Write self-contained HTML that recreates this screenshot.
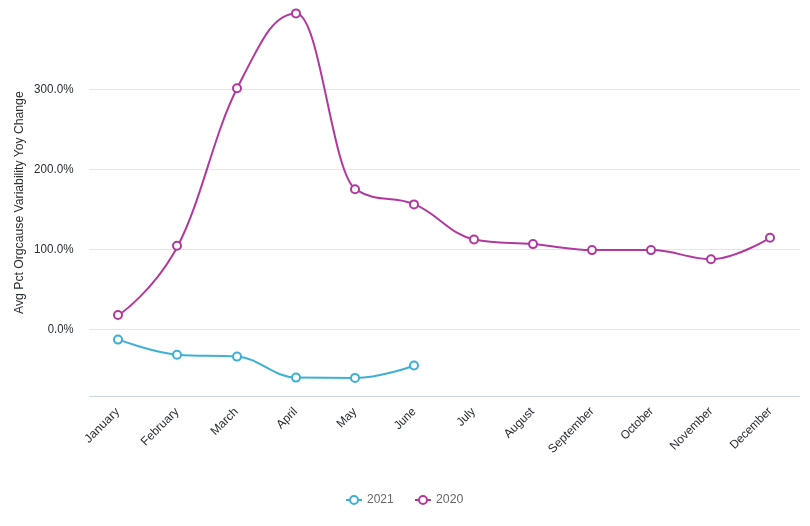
<!DOCTYPE html>
<html><head><meta charset="utf-8"><title>Chart</title>
<style>
html,body{margin:0;padding:0;background:#fff;}
body{width:810px;height:526px;overflow:hidden;}
svg{display:block;font-family:"Liberation Sans",sans-serif;font-size:12px;}
</style></head><body>
<svg width="810" height="526" viewBox="0 0 810 526">
<rect width="810" height="526" fill="#ffffff"/>
<path d="M89 89.5 L800 89.5" stroke="#e6e6e6" stroke-width="1" fill="none"/>
<path d="M89 169.5 L800 169.5" stroke="#e6e6e6" stroke-width="1" fill="none"/>
<path d="M89 249.5 L800 249.5" stroke="#e6e6e6" stroke-width="1" fill="none"/>
<path d="M89 329.5 L800 329.5" stroke="#e6e6e6" stroke-width="1" fill="none"/>
<path d="M89 396.5 L800 396.5" stroke="#ccd6eb" stroke-width="1" fill="none"/>
<text x="73.6" y="92.9" text-anchor="end" fill="#262d33" textLength="39.5" lengthAdjust="spacingAndGlyphs">300.0%</text>
<text x="73.6" y="172.9" text-anchor="end" fill="#262d33" textLength="39.5" lengthAdjust="spacingAndGlyphs">200.0%</text>
<text x="73.6" y="252.9" text-anchor="end" fill="#262d33" textLength="39.5" lengthAdjust="spacingAndGlyphs">100.0%</text>
<text x="73.6" y="332.9" text-anchor="end" fill="#262d33" textLength="25.8" lengthAdjust="spacingAndGlyphs">0.0%</text>
<text x="23.5" y="202.6" text-anchor="middle" transform="rotate(-90 23.5 202.6)" fill="#262d33" textLength="222.6" lengthAdjust="spacingAndGlyphs">Avg Pct Orgcause Variability Yoy Change</text>
<text x="120.22" y="412.2" text-anchor="end" transform="rotate(-45 120.22 412.2)" fill="#262d33" textLength="44.2" lengthAdjust="spacingAndGlyphs">January</text>
<text x="179.47" y="412.2" text-anchor="end" transform="rotate(-45 179.47 412.2)" fill="#262d33">February</text>
<text x="238.72" y="412.2" text-anchor="end" transform="rotate(-45 238.72 412.2)" fill="#262d33">March</text>
<text x="297.98" y="412.2" text-anchor="end" transform="rotate(-45 297.98 412.2)" fill="#262d33">April</text>
<text x="357.23" y="412.2" text-anchor="end" transform="rotate(-45 357.23 412.2)" fill="#262d33">May</text>
<text x="416.48" y="412.2" text-anchor="end" transform="rotate(-45 416.48 412.2)" fill="#262d33" textLength="25.2" lengthAdjust="spacingAndGlyphs">June</text>
<text x="475.73" y="412.2" text-anchor="end" transform="rotate(-45 475.73 412.2)" fill="#262d33" textLength="20.5" lengthAdjust="spacingAndGlyphs">July</text>
<text x="534.98" y="412.2" text-anchor="end" transform="rotate(-45 534.98 412.2)" fill="#262d33">August</text>
<text x="594.73" y="411.7" text-anchor="end" transform="rotate(-45 594.73 411.7)" fill="#262d33" textLength="59.4" lengthAdjust="spacingAndGlyphs">September</text>
<text x="653.98" y="411.7" text-anchor="end" transform="rotate(-45 653.98 411.7)" fill="#262d33" textLength="40.5" lengthAdjust="spacingAndGlyphs">October</text>
<text x="713.23" y="411.7" text-anchor="end" transform="rotate(-45 713.23 411.7)" fill="#262d33" textLength="54.8" lengthAdjust="spacingAndGlyphs">November</text>
<text x="772.48" y="411.7" text-anchor="end" transform="rotate(-45 772.48 411.7)" fill="#262d33" textLength="53.6" lengthAdjust="spacingAndGlyphs">December</text>
<path d="M118.62 339.60 C118.62 339.60 154.18 352.80 177.88 354.70 C201.57 356.60 213.43 354.70 237.12 356.60 C260.82 358.50 272.68 377.30 296.38 377.60 C320.07 377.90 331.93 377.90 355.62 377.90 C379.32 377.90 414.88 365.50 414.88 365.50" fill="none" stroke="#3EB0D5" stroke-width="2" stroke-linejoin="round" stroke-linecap="round"/>
<path d="M118.62 315.00 C118.62 315.00 154.18 291.04 177.88 245.70 C201.57 200.36 213.43 134.76 237.12 88.30 C260.82 41.84 272.68 13.40 296.38 13.40 C320.07 13.40 331.93 174.20 355.62 189.30 C379.32 204.40 391.18 194.36 414.88 204.40 C438.57 214.44 450.43 234.90 474.12 239.50 C497.82 244.10 509.68 241.98 533.38 244.10 C557.08 246.22 568.92 250.10 592.62 250.10 C616.33 250.10 628.17 250.10 651.88 250.10 C675.58 250.10 687.42 259.20 711.12 259.20 C734.83 259.20 770.38 237.70 770.38 237.70" fill="none" stroke="#B1399E" stroke-width="2" stroke-linejoin="round" stroke-linecap="round"/>
<circle cx="118" cy="339.6" r="4" fill="#fff" stroke="#3EB0D5" stroke-width="2"/>
<circle cx="177" cy="354.7" r="4" fill="#fff" stroke="#3EB0D5" stroke-width="2"/>
<circle cx="237" cy="356.6" r="4" fill="#fff" stroke="#3EB0D5" stroke-width="2"/>
<circle cx="296" cy="377.6" r="4" fill="#fff" stroke="#3EB0D5" stroke-width="2"/>
<circle cx="355" cy="377.9" r="4" fill="#fff" stroke="#3EB0D5" stroke-width="2"/>
<circle cx="414" cy="365.5" r="4" fill="#fff" stroke="#3EB0D5" stroke-width="2"/>
<circle cx="118" cy="315.0" r="4" fill="#fff" stroke="#B1399E" stroke-width="2"/>
<circle cx="177" cy="245.7" r="4" fill="#fff" stroke="#B1399E" stroke-width="2"/>
<circle cx="237" cy="88.3" r="4" fill="#fff" stroke="#B1399E" stroke-width="2"/>
<circle cx="296" cy="13.4" r="4" fill="#fff" stroke="#B1399E" stroke-width="2"/>
<circle cx="355" cy="189.3" r="4" fill="#fff" stroke="#B1399E" stroke-width="2"/>
<circle cx="414" cy="204.4" r="4" fill="#fff" stroke="#B1399E" stroke-width="2"/>
<circle cx="474" cy="239.5" r="4" fill="#fff" stroke="#B1399E" stroke-width="2"/>
<circle cx="533" cy="244.1" r="4" fill="#fff" stroke="#B1399E" stroke-width="2"/>
<circle cx="592" cy="250.1" r="4" fill="#fff" stroke="#B1399E" stroke-width="2"/>
<circle cx="651" cy="250.1" r="4" fill="#fff" stroke="#B1399E" stroke-width="2"/>
<circle cx="711" cy="259.2" r="4" fill="#fff" stroke="#B1399E" stroke-width="2"/>
<circle cx="770" cy="237.7" r="4" fill="#fff" stroke="#B1399E" stroke-width="2"/>
<path d="M346 500 L362 500" stroke="#3EB0D5" stroke-width="2"/><circle cx="354" cy="500" r="4" fill="#fff" stroke="#3EB0D5" stroke-width="2"/>
<text x="367" y="503.2" fill="#666">2021</text>
<path d="M415 500 L431 500" stroke="#B1399E" stroke-width="2"/><circle cx="423" cy="500" r="4" fill="#fff" stroke="#B1399E" stroke-width="2"/>
<text x="436" y="503.2" fill="#666" textLength="27.4" lengthAdjust="spacingAndGlyphs">2020</text>
</svg></body></html>
